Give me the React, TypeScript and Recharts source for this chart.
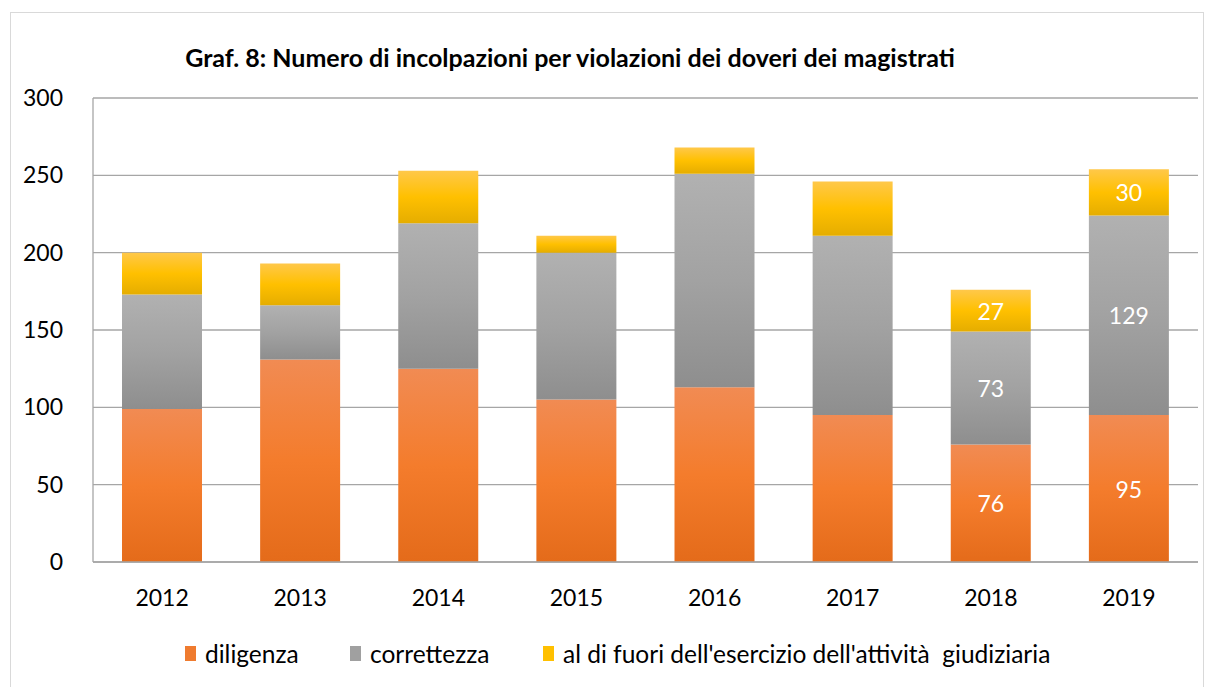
import { BarChart, Bar, XAxis, YAxis, CartesianGrid, Legend, LabelList } from 'recharts';

const years = ['2012', '2013', '2014', '2015', '2016', '2017', '2018', '2019'];
const diligenza = [99, 131, 125, 105, 113, 95, 76, 95];
const correttezza = [74, 35, 94, 95, 138, 116, 73, 129];
const fuori = [27, 27, 34, 11, 17, 35, 27, 30];
const labelledYears = ['2018', '2019'];
const yTicks = [0, 50, 100, 150, 200, 250, 300];

const seriesNames = {
  diligenza: 'diligenza',
  correttezza: 'correttezza',
  fuori: "al di fuori dell'esercizio dell'attività  giudiziaria"
};

const data = years.map((year, i) => ({
  year,
  diligenza: diligenza[i],
  correttezza: correttezza[i],
  fuori: fuori[i]
}));

const font = 'Lato, "Open Sans", sans-serif';

const renderLabel = (props: any) => {
  const { x, y, width, height, value, index } = props;
  if (!labelledYears.includes(years[index])) return null;
  return (
    <text
      x={x + width / 2}
      y={y + height / 2}
      fill="#ffffff"
      fontSize={23}
      fontFamily={font}
      textAnchor="middle"
      dominantBaseline="central"
    >
      {value}
    </text>
  );
};

const legendItems = [
  { key: 'diligenza', color: '#ef7b2f' },
  { key: 'correttezza', color: '#a0a0a0' },
  { key: 'fuori', color: '#ffc000' }
];

const renderLegend = () => (
  <div style={{ position: 'relative', height: 28, fontFamily: font, fontSize: 24.5, color: '#000', whiteSpace: 'pre' }}>
    {legendItems.map((item, i) => (
      <div
        key={item.key}
        style={{ position: 'absolute', left: [185, 350, 543][i], top: 0, display: 'flex', alignItems: 'center' }}
      >
        <span style={{ display: 'inline-block', width: 11, height: 15, background: item.color, marginRight: 9 }} />
        <span>{seriesNames[item.key as keyof typeof seriesNames]}</span>
      </div>
    ))}
  </div>
);

export default function App() {
  return (
    <div style={{ position: 'absolute', left: 0, top: 0, width: 1214, height: 687, background: '#fff' }}>
      <div
        style={{
          position: 'absolute',
          left: 10,
          top: 12,
          width: 1194,
          height: 676,
          border: '1px solid #d9d9d9',
          boxSizing: 'border-box'
        }}
      />
      <div
        style={{
          position: 'absolute',
          left: 0,
          width: 1140,
          top: 42,
          textAlign: 'center',
          fontFamily: font,
          fontWeight: 'bold',
          fontSize: 25,
          color: '#000'
        }}
      >
        Graf. 8: Numero di incolpazioni per violazioni dei doveri dei magistrati
      </div>
      <div style={{ position: 'absolute', left: 0, top: 0 }}>
        <BarChart
          width={1214}
          height={687}
          data={data}
          margin={{ top: 98, right: 16, bottom: 47, left: 0 }}
          barCategoryGap="21%"
        >
          <defs>
            <linearGradient id="gOrange" x1="0" y1="0" x2="0" y2="1">
              <stop offset="0%" stopColor="#f18b53" />
              <stop offset="50%" stopColor="#f47c2c" />
              <stop offset="100%" stopColor="#e46b1a" />
            </linearGradient>
            <linearGradient id="gGray" x1="0" y1="0" x2="0" y2="1">
              <stop offset="0%" stopColor="#b1b1b1" />
              <stop offset="50%" stopColor="#a2a2a2" />
              <stop offset="100%" stopColor="#8e8e8e" />
            </linearGradient>
            <linearGradient id="gYellow" x1="0" y1="0" x2="0" y2="1">
              <stop offset="0%" stopColor="#ffc84a" />
              <stop offset="50%" stopColor="#ffc000" />
              <stop offset="100%" stopColor="#e5ad00" />
            </linearGradient>
          </defs>
          <CartesianGrid vertical={false} stroke="#a6a6a6" strokeWidth={1.3} />
          <XAxis
            dataKey="year"
            tickLine={false}
            axisLine={{ stroke: '#a6a6a6', strokeWidth: 1.3 }}
            tick={{ fill: '#000', fontSize: 23, fontFamily: font }}
            tickMargin={22}
            height={50}
          />
          <YAxis
            domain={[0, 300]}
            ticks={yTicks}
            width={93}
            tickLine={false}
            axisLine={{ stroke: '#a6a6a6', strokeWidth: 1.3 }}
            tick={{ fill: '#000', fontSize: 23, fontFamily: font }}
            tickMargin={24}
          />
          <Legend content={renderLegend} verticalAlign="bottom" wrapperStyle={{ bottom: 20 }} />
          <Bar dataKey="diligenza" name={seriesNames.diligenza} stackId="a" fill="url(#gOrange)" isAnimationActive={false}>
            <LabelList dataKey="diligenza" content={renderLabel} />
          </Bar>
          <Bar dataKey="correttezza" name={seriesNames.correttezza} stackId="a" fill="url(#gGray)" isAnimationActive={false}>
            <LabelList dataKey="correttezza" content={renderLabel} />
          </Bar>
          <Bar dataKey="fuori" name={seriesNames.fuori} stackId="a" fill="url(#gYellow)" isAnimationActive={false}>
            <LabelList dataKey="fuori" content={renderLabel} />
          </Bar>
        </BarChart>
      </div>
    </div>
  );
}
